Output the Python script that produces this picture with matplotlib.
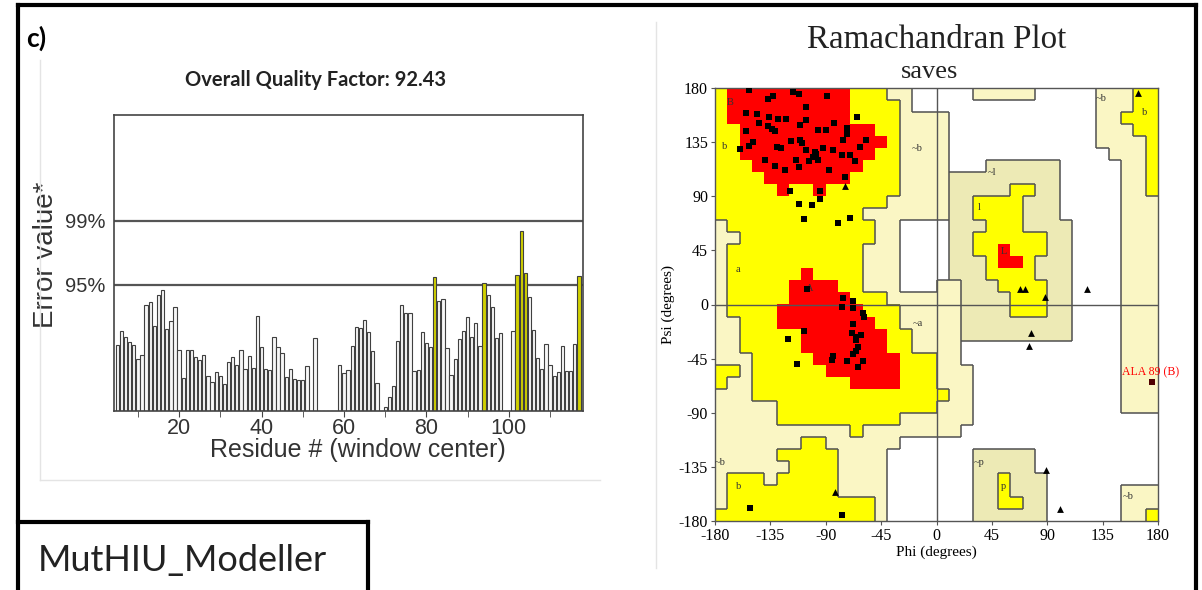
import numpy as np
import matplotlib
matplotlib.use("Agg")
import matplotlib.pyplot as plt
from matplotlib.colors import ListedColormap
from matplotlib.lines import Line2D
from matplotlib.collections import LineCollection

# ---------------- ERRAT data ----------------
residues = list(range(5, 118))
errat_values = [
    5.98, 7.2, 6.65, 6.2, 5.98, 4.68, 5.07, 9.53, 9.87, 7.71,      # 5-14
    10.45, 10.93, 7.35, 8.1, 9.38, 5.53, 2.95, 5.53, 5.53, 4.86,   # 15-24
    4.62, 5.0, 3.1, 2.64, 3.46, 3.1, 2.43, 4.37, 4.86, 4.16,       # 25-34
    5.53, 3.77, 4.92, 3.86, 8.56, 5.77, 3.77, 3.64, 6.68, 5.77,    # 35-44
    5.23, 3.04, 3.77, 2.86, 2.8, 2.75, 4.0, 0, 6.6, 0,             # 45-54
    0, 0, 0, 0, 4.16, 3.4, 3.64, 5.9, 7.56, 7.5,                   # 55-64
    8.2, 7.1, 5.37, 2.55, 0, 0.3, 1.27, 2.2, 6.35, 9.56,           # 65-74
    8.8, 8.8, 3.55, 3.7, 7.1, 6.14, 5.74, 12.1, 9.9, 10.15,        # 75-84
    5.65, 3.2, 4.7, 6.5, 7.2, 8.5, 6.7, 7.9, 5.9, 11.54,           # 85-94
    10.45, 9.4, 6.6, 7.0, 0, 0, 7.2, 12.27, 16.3, 12.5,            # 95-104
    10.3, 7.3, 4.77, 3.8, 6.07, 4.1, 3.1, 3.46, 5.9, 3.55,         # 105-114
    3.6, 6.07, 12.2,                                               # 115-117
]
limit_95 = 11.38
limit_99 = 17.19
xticks_major = [20, 40, 60, 80, 100]
quality_factor = "92.43"

# ---------------- Ramachandran data ----------------
# region map, 10-degree cells; rows psi 180 -> -180, cols phi -180 -> 180
# R core, Y allowed, P generously allowed, T generous (l / p), W disallowed
region_neg = [
    "YRRRRRRRRRRYYYPPWW", "YRRRRRRRRRRYYYYPWW", "YRRRRRRRRRRYYYYPPP",
    "YYRRRRRRRRRRRYYPPP", "YYRRRRRRRRRRRRYPPP", "YYRRRRRRRRRRRYYPPP",
    "YYYRRRRRRRRRYYYPPP", "YYYYRRRRRRRYYYYPPP", "YYYYYRYYRYYYYYYPPP",
    "YYYYYYYYYYYYYYPPPP", "YYYYYYYYYYYYPPPPPP", "PYYYYYYYYYYYYPPWWW",
    "PPYYYYYYYYYYYPPWWW", "PYYYYYYYYYYYPPPWWW", "PYYYYYYYYYYYPPPWWW",
    "PYYYYYYRYYYYPPPWWW", "PYYYYYRRRRYYPPPWWW", "PYYYYYRRRRRYYYPPPP",
    "PYYYYRRRRRRRYYYPPP", "PPYYYRRRRRRRRYYPPP", "PPYYYYYRRRRRRRYYPP",
    "PPYYYYYRRRRRRRYYPP", "PPPYYYYYRRRRRRRYYY", "YYPYYYYYYRRRRRRYYY",
    "YPPYYYYYYYYRRRRYYY", "PPPYYYYYYYYYYYYYYY", "PPPPPYYYYYYYYYYYYY",
    "PPPPPYYYYYYYYYYPPP", "PPPPPPPPPPPYPPPPPP", "PPPPPPPYYPPPPPPWWW",
    "PPPPPYYYYYPPPPWWWW", "PPPPPPYYYYPPPPWWWW", "PYYYPYYYYYPPPPWWWW",
    "PYYYYYYYYYPPPPWWWW", "PYYYYYYYYYYYYPWWWW", "YYYYYYYYYYYYYPWWWW",
]
region_pos = [
    "WWWPPPPPWWWWWPPPYY", "WWWWWWWWWWWWWPPPYY", "PWWWWWWWWWWWWPPYYY",
    "PWWWWWWWWWWWWPPPYY", "PWWWWWWWWWWWWPPPPY", "PWWWWWWWWWWWWWPPPY",
    "PWWWTTTTTTWWWWWPPY", "PTTTTTTTTTWWWWWPPY", "PTTTTTYYTTWWWWWPPY",
    "PTTYYYYTTTWWWWWPPP", "PTTYYYYTTTWWWWWPPP", "WTTTYYYTTTTWWWWPPP",
    "WTTYYYYYYTTWWWWPPP", "WTTYYRYYYTTWWWWPPP", "WTTTYRRYTTTWWWWPPP",
    "WTTTYYYYTTTWWWWPPP", "PPTTTYYYYTTWWWWPPP", "PPTTTTYYYTTWWWWPPP",
    "PPTTTTYYYTTWWWWPPP", "PPTTTTTTTTTWWWWPPP", "PPTTTTTTTTTWWWWPPP",
    "PPWWWWWWWWWWWWWPPP", "PPWWWWWWWWWWWWWPPP", "PPPWWWWWWWWWWWWPPP",
    "PPPWWWWWWWWWWWWPPP", "YPPWWWWWWWWWWWWPPP", "PPPWWWWWWWWWWWWPPP",
    "PPPWWWWWWWWWWWWWWW", "PPWWWWWWWWWWWWWWWW", "WWWWWWWWWWWWWWWWWW",
    "WWWTTTTTWWWWWWWWWW", "WWWTTTTTWWWWWWWWWW", "WWWTTYTTTWWWWWWWWW",
    "WWWTTYTTTWWWWWWPPP", "WWWTTYYTTWWWWWWPPP", "WWWTTTTTTWWWWWWPPY",
]
region_codes = "WPTYR"
region_colors = ["#FFFFFF", "#FAF6C4", "#EDEAB5", "#FFFF00", "#FF0000"]

res_phi = [-152, -133, -137, -117, -112, -89, -155, -146, -136, -129, -122, -106,
           -106, -111, -96, -90, -83, -155, -144, -137, -134, -131, -73, -73, -64.5,
           -57, -62, -76, -160, -152, -149, -130, -126, -118, -111, -109, -106, -99,
           -98, -92, -84, -77, -66, -70, -139, -131, -123, -114, -112, -104, -100,
           -96, -87, -74.5, -119, -95, -95, -112, -101.5, -108, -80, -70,
           -105.6, -75.8, -67.7, -77, -67.5, -60, -59, -67.5, -108, -120.5, -69,
           -65.6, -61, -65.3, -63.7, -65.3, -67.7, -84.5, -85, -73, -60, -63.7,
           -113.7, -151.6, -76.4]
res_psi = [178, 173, 171, 177, 175, 173, 159, 158, 156, 154, 154, 164,
           153, 149, 145, 145, 151, 144.5, 151, 148, 146, 144, 146.5, 142, 156,
           137, 131, 137, 129, 132, 135, 131, 130, 136, 137, 134, 128.5, 127,
           125, 130, 128.5, 124, 119.6, 124, 120, 115, 112, 120, 114, 119, 123,
           120, 112, 106, 94, 94, 87.5, 83.6, 83, 71, 67.5, 72,
           12.6, 5.2, 3.2, -2.3, -3, -7.3, -10, -16, -21.7, -29, -24,
           -26.7, -25, -29.5, -35, -39, -41, -42.8, -46, -46.7, -46.7, -51.7,
           -49.4, -169.4, -175]
gly_phi = [-74, -82.6, 163.6, 67.6, 71.6, 87.9, 122.2, 77, 75.1, 89.2, 100]
gly_psi = [98.5, -155.6, 175.6, 12.6, 12.6, 6.5, 12.6, -23.4, -34.5, -138, -169.7]
outlier_phi = [175.3]
outlier_psi = [-64.1]
outlier_label = ["ALA 89 (B)"]

region_labels = ["B", "b", "~b", "A", "a", "~a", "~l", "l", "L", "~p", "p",
                 "~b", "~b", "b", "~b", "b"]
label_phi = [-168, -172, -16, -103, -161, -15, 45, 35, 55, 35, 54, 156, 134, 169, -176, -161]
label_psi = [168, 131, 130, 13, 29, -16, 110, 81, 44, -131, -151, -160, 171, 160, -131, -151]
rama_ticks = [-180, -135, -90, -45, 0, 45, 90, 135, 180]

# ---------------- figure ----------------
W, H = 1202, 590
fig = plt.figure(figsize=(W / 100, H / 100), dpi=100)
SANS = ["Liberation Sans", "DejaVu Sans"]
SERIF = ["Liberation Serif", "DejaVu Serif"]
CAL = ["Lato", "DejaVu Sans"]


def fx(x):
    return x / W


def fy(y):
    return 1 - y / H


# ERRAT panel
ax1 = fig.add_axes([fx(114), fy(410.7), (583 - 114) / W, (410.7 - 115) / H])
vals = np.array(errat_values, dtype=float)
cols = ["#D0D000" if v > limit_95 else "#F7F7F7" for v in vals]
ax1.bar(residues, vals, width=0.8, color=cols, edgecolor="#404040", linewidth=0.8)
ax1.set_xlim(4.2, 118.0)
ax1.set_ylim(0, 26.76)
ax1.axhline(limit_95, color="#555555", lw=1.6, zorder=0)
ax1.axhline(limit_99, color="#555555", lw=1.6, zorder=0)
ax1.set_yticks([limit_95, limit_99])
ax1.set_yticklabels(["95%", "99%"], fontsize=14.5, family=SANS, color="#333333")
ax1.tick_params(axis="y", length=0, pad=6)
ax1.set_xticks(xticks_major)
ax1.set_xticklabels([str(t) for t in xticks_major], fontsize=15.5, family=SANS, color="#333333")
ax1.set_xticks([10, 30, 50, 70, 90, 110], minor=True)
ax1.tick_params(axis="x", which="both", length=4, direction="out", color="#444444", pad=1)
for s in ax1.spines.values():
    s.set_color("#444444")
    s.set_linewidth(1.2)
ax1.set_xlabel("Residue # (window center)", fontsize=18, family=SANS, color="#333333")
ax1.xaxis.set_label_coords(0.52, -0.092)
ax1.set_ylabel("Error value*", fontsize=20, family=SANS, color="#333333")
ax1.yaxis.set_label_coords(-0.118, 0.527)

# Ramachandran panel
ax2 = fig.add_axes([fx(715), fy(521), 443 / W, 433 / H])
rows = [a + b for a, b in zip(region_neg, region_pos)]
grid = np.array([[region_codes.index(c) for c in row] for row in rows])
ax2.imshow(grid, cmap=ListedColormap(region_colors), vmin=0, vmax=4,
           extent=(-180, 180, -180, 180), origin="upper", aspect="auto",
           interpolation="nearest", zorder=0)
segs = []
nr, nc = grid.shape
for r in range(nr):
    for c in range(nc):
        a = grid[r, c]
        if c + 1 < nc:
            b = grid[r, c + 1]
            if a != b and 4 not in (a, b):
                x = -180 + 10 * (c + 1)
                segs.append([(x, 180 - 10 * r), (x, 170 - 10 * r)])
        if r + 1 < nr:
            b = grid[r + 1, c]
            if a != b and 4 not in (a, b):
                y = 170 - 10 * r
                segs.append([(-180 + 10 * c, y), (-170 + 10 * c, y)])
ax2.add_collection(LineCollection(segs, colors="#505050", linewidths=1.1, zorder=1))
ax2.axhline(0, color="#555555", lw=1.0, zorder=2)
ax2.axvline(0, color="#555555", lw=1.0, zorder=2)
ax2.scatter(res_phi, res_psi, marker="s", s=20, color="black", zorder=4, linewidths=0)
ax2.scatter(gly_phi, gly_psi, marker="^", s=24, color="black", zorder=4, linewidths=0)
ax2.scatter(outlier_phi, outlier_psi, marker="s", s=20, color="#500000", zorder=4, linewidths=0)
for p, q, t in zip(outlier_phi, outlier_psi, outlier_label):
    ax2.text(p - 1, q + 3, t, color="red", fontsize=8.5, family=SERIF, ha="center",
             va="bottom", zorder=5, clip_on=False)
for t, p, q in zip(region_labels, label_phi, label_psi):
    ax2.text(p, q, t, fontsize=7.5, family=SERIF, color="#333333", ha="center",
             va="center", zorder=3)
ax2.set_xlim(-180, 180)
ax2.set_ylim(-180, 180)
ax2.set_xticks(rama_ticks)
ax2.set_yticks(rama_ticks)
ax2.set_xticklabels([str(t) for t in rama_ticks], fontsize=11.5, family=SERIF)
ax2.set_yticklabels([str(t) for t in rama_ticks], fontsize=11.5, family=SERIF)
ax2.tick_params(length=3, direction="out", color="#555555", pad=2)
for s in ax2.spines.values():
    s.set_color("#555555")
    s.set_linewidth(1.0)
ax2.set_xlabel("Phi (degrees)", fontsize=11, family=SERIF, labelpad=1)
ax2.set_ylabel("Psi (degrees)", fontsize=11, family=SERIF, labelpad=3)

# texts
fig.text(fx(26), fy(38), "c)", fontsize=19, fontweight="bold", family=CAL, ha="left", va="center")
fig.text(fx(316), fy(80), "Overall Quality Factor: " + quality_factor, fontsize=14.5,
         fontweight="bold", family=CAL, ha="center", va="center", color="#222222")
fig.text(fx(937), fy(40), "Ramachandran Plot", fontsize=23.8, family=SERIF,
         ha="center", va="center", color="#222222")
fig.text(fx(930), fy(72), "saves", fontsize=19, family=SERIF, ha="center",
         va="center", color="#222222")
fig.text(fx(38), fy(560), "MutHIU_Modeller", fontsize=26, family=CAL, ha="left",
         va="center", color="#222222")

# frames
def fline(x0, y0, x1, y1, lw=3, color="black"):
    fig.add_artist(Line2D([fx(x0), fx(x1)], [fy(y0), fy(y1)], lw=lw, color=color,
                          transform=fig.transFigure))


fline(18, 5, 1196, 5)
fline(18, 5, 18, 590)
fline(1196, 5, 1196, 590)
fline(18, 522, 368, 522)
fline(368, 522, 368, 590)
fline(40, 60, 40, 480, lw=1, color="#E4E4E4")
fline(40, 480, 600, 480, lw=1, color="#E4E4E4")
fline(656, 22, 656, 568, lw=1, color="#E4E4E4")

fig.savefig("out.png", dpi=100)
